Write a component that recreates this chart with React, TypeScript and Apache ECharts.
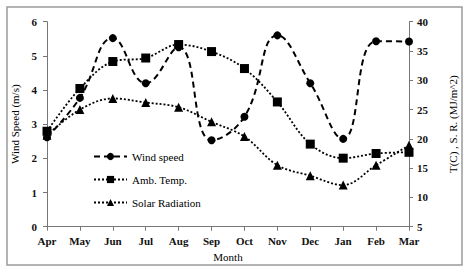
import React, { useEffect, useRef } from "react";
import * as echarts from "echarts";

const months = ["Apr", "May", "Jun", "Jul", "Aug", "Sep", "Oct", "Nov", "Dec", "Jan", "Feb", "Mar"];
const windSpeed = [2.62, 3.77, 5.52, 4.2, 5.25, 2.53, 3.22, 5.6, 4.2, 2.57, 5.43, 5.42];
const ambTemp = [21.3, 28.6, 33.2, 33.8, 36.1, 34.9, 32.0, 26.3, 19.1, 16.7, 17.5, 17.7];
const solarRad = [20.6, 25.0, 26.9, 26.2, 25.4, 22.9, 20.4, 15.5, 13.7, 12.1, 15.5, 18.9];

const serif = "Times New Roman";

export default function App() {
  const ref = useRef<HTMLDivElement>(null);
  useEffect(() => {
    if (!ref.current) return;
    const chart = echarts.init(ref.current, undefined, { renderer: "svg" });
    const tickLabel = { fontFamily: serif, fontWeight: "bold" as const, fontSize: 11, color: "#111" };
    chart.setOption({
      animation: false,
      backgroundColor: "#fff",
      textStyle: { fontFamily: serif },
      graphic: [
        {
          type: "rect",
          shape: { x: 7, y: 7, width: 455, height: 258 },
          style: { fill: "none", stroke: "#9a9a9a", lineWidth: 1.5 },
          silent: true,
        },
      ],
      grid: { left: 47, right: 63, top: 21.7, bottom: 280 - 226.7 },
      legend: {
        orient: "vertical",
        left: 88,
        top: 146,
        itemWidth: 33,
        itemHeight: 9,
        itemGap: 12,
        textStyle: { fontFamily: serif, fontSize: 11, color: "#000" },
        data: ["Wind speed", "Amb. Temp.", "Solar Radiation"],
      },
      xAxis: {
        type: "category",
        data: months,
        boundaryGap: false,
        axisLine: { lineStyle: { color: "#777", width: 1 } },
        axisTick: { alignWithLabel: true, length: 4, lineStyle: { color: "#777" } },
        axisLabel: { ...tickLabel, margin: 9 },
        name: "Month",
        nameLocation: "middle",
        nameGap: 23,
        nameTextStyle: { fontFamily: serif, fontSize: 11, color: "#000" },
      },
      yAxis: [
        {
          type: "value",
          min: 0,
          max: 6,
          interval: 1,
          splitLine: { show: false },
          axisLine: { show: true, lineStyle: { color: "#777" } },
          axisTick: { show: true, length: 4, lineStyle: { color: "#777" } },
          axisLabel: { ...tickLabel, margin: 10 },
          name: "Wind Speed (m/s)",
          nameLocation: "middle",
          nameRotate: 90,
          nameGap: 26,
          nameTextStyle: { fontFamily: serif, fontSize: 11, color: "#000" },
        },
        {
          type: "value",
          min: 5,
          max: 40,
          interval: 5,
          position: "right",
          splitLine: { show: false },
          axisLine: { show: true, lineStyle: { color: "#777" } },
          axisTick: { show: true, length: 4, lineStyle: { color: "#777" } },
          axisLabel: { ...tickLabel, margin: 8 },
          name: "T(C) , S. R. (MJ/m^2)",
          nameLocation: "middle",
          nameRotate: 90,
          nameGap: 38,
          nameTextStyle: { fontFamily: serif, fontSize: 11, color: "#000" },
        },
      ],
      series: [
        {
          name: "Wind speed",
          type: "line",
          yAxisIndex: 0,
          data: windSpeed,
          smooth: 0.45,
          symbol: "circle",
          symbolSize: 8,
          itemStyle: { color: "#000" },
          lineStyle: { color: "#000", width: 2, type: [6, 4] },
          z: 3,
        },
        {
          name: "Amb. Temp.",
          type: "line",
          yAxisIndex: 1,
          data: ambTemp,
          smooth: 0.35,
          symbol: "rect",
          symbolSize: 9,
          itemStyle: { color: "#000" },
          lineStyle: { color: "#000", width: 1.8, type: [2, 2] },
          z: 2,
        },
        {
          name: "Solar Radiation",
          type: "line",
          yAxisIndex: 1,
          data: solarRad,
          smooth: 0.35,
          symbol: "triangle",
          symbolSize: 9,
          itemStyle: { color: "#000" },
          lineStyle: { color: "#000", width: 1.8, type: [2, 2] },
          z: 2,
        },
      ],
    });
    return () => chart.dispose();
  }, []);
  return (
    <div
      ref={ref}
      style={{ position: "fixed", left: 0, top: 0, width: 472, height: 280 }}
    />
  );
}
